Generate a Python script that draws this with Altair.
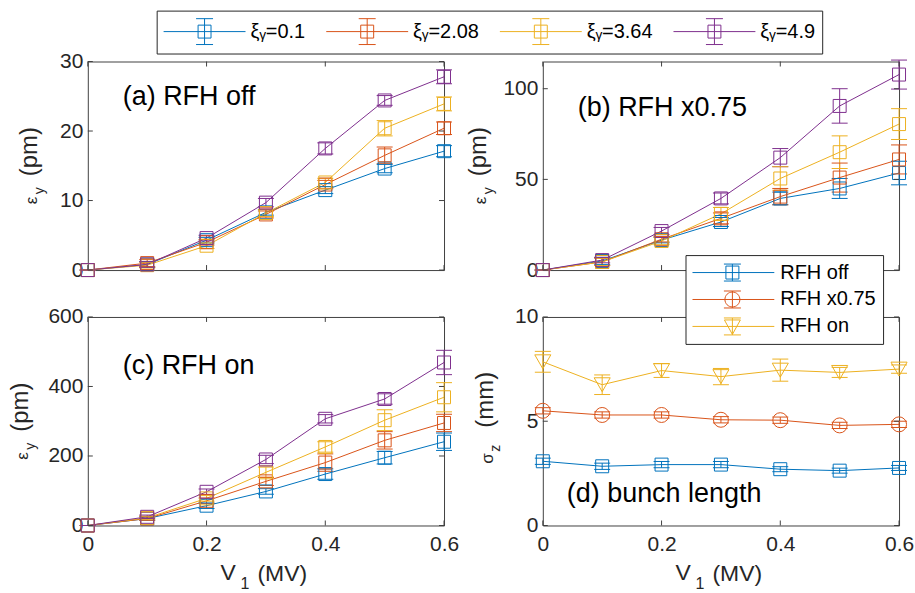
import altair as alt
import pandas as pd

FONT = "Liberation Sans"
TXT = "#262626"
FRAME = "#404040"
W, H = 357, 209

# ---------------- data ----------------
V1 = [0.0, 0.1, 0.2, 0.3, 0.4, 0.5, 0.6]
X_TICKS = [0, 0.2, 0.4, 0.6]

XI_LABELS = ["ξᵧ=0.1", "ξᵧ=2.08", "ξᵧ=3.64", "ξᵧ=4.9"]
XI_COLORS = ["#0072BD", "#D95319", "#EDB120", "#7E2F8E"]

# (a) RFH off  -- emittance (pm)
a_xi01 = [0, 0.8, 4.3, 8.3, 11.5, 14.6, 17.1]
a_xi208 = [0, 1.0, 4.0, 8.0, 12.3, 16.5, 20.4]
a_xi364 = [0, 0.7, 3.5, 8.2, 12.6, 20.4, 23.9]
a_xi49 = [0, 0.8, 4.6, 9.7, 17.5, 24.4, 27.8]
a_err01 = [0, 0.4, 0.4, 0.4, 0.5, 0.6, 0.8]
a_err208 = [0, 0.5, 0.4, 0.5, 0.6, 1.2, 0.9]
a_err364 = [0, 0.4, 0.4, 0.5, 0.6, 1.1, 1.0]
a_err49 = [0, 0.4, 0.4, 0.6, 0.8, 0.7, 1.0]
A_TICKS = [0, 10, 20, 30]

# (b) RFH x0.75
b_xi01 = [0, 5.0, 16.5, 26.5, 39.5, 45.0, 53.5]
b_xi208 = [0, 4.5, 17.0, 28.5, 40.5, 51.0, 61.0]
b_xi364 = [0, 4.5, 16.0, 31.0, 50.5, 65.0, 80.5]
b_xi49 = [0, 5.5, 21.5, 39.5, 62.0, 90.5, 107.8]
b_err01 = [0, 2.0, 1.5, 2.5, 3.5, 5.5, 6.5]
b_err208 = [0, 2.0, 1.5, 3.0, 4.5, 8.0, 8.0]
b_err364 = [0, 2.0, 2.0, 3.5, 6.5, 9.0, 8.5]
b_err49 = [0, 1.5, 2.0, 3.0, 5.0, 9.5, 8.0]
B_TICKS = [0, 50, 100]

# (c) RFH on
c_xi01 = [0, 20, 57, 98, 148, 195, 241]
c_xi208 = [0, 20, 71, 127, 181, 245, 295]
c_xi364 = [0, 22, 78, 153, 226, 303, 369]
c_xi49 = [0, 25, 97, 190, 307, 364, 469]
c_err01 = [0, 5, 8, 8, 15, 18, 25]
c_err208 = [0, 5, 8, 12, 25, 25, 25]
c_err364 = [0, 5, 8, 15, 15, 30, 42]
c_err49 = [0, 5, 8, 12, 12, 15, 35]
C_TICKS = [0, 200, 400, 600]

# (d) bunch length (mm)
RFH_LABELS = ["RFH off", "RFH x0.75", "RFH on"]
RFH_COLORS = ["#0072BD", "#D95319", "#EDB120"]
RFH_SHAPES = ["square", "circle", "triangle-down"]
RFH_SIZES = [169, 225, 260]
d_off = [3.08, 2.84, 2.92, 2.92, 2.70, 2.63, 2.76]
d_x075 = [5.50, 5.30, 5.30, 5.07, 5.05, 4.80, 4.85]
d_on = [7.85, 6.75, 7.43, 7.14, 7.45, 7.34, 7.50]
d_off_err = [0.15, 0.15, 0.15, 0.15, 0.12, 0.12, 0.12]
d_x075_err = [0.15, 0.15, 0.15, 0.15, 0.15, 0.15, 0.15]
d_on_err = [0.50, 0.47, 0.33, 0.39, 0.53, 0.24, 0.20]
D_TICKS = [0, 5, 10]


def long_df(series, errs, labels):
    rows = []
    for lab, ys, es in zip(labels, series, errs):
        for v, y, e in zip(V1, ys, es):
            rows.append({"V": v, "val": y, "lo": y - e, "hi": y + e, "s": lab})
    return pd.DataFrame(rows)


# legend symbols: line + errorbar + marker (custom SVG paths, unit = sqrt(size)/2 px)
TOP_SYM = ("M-1.04,0H5.04M1.52,-0.48H2.48V0.48H1.52Z"
           "M2,-0.96V0.96M1.37,-0.96H2.63M1.37,0.96H2.63")
EB = "M2.95,-0.85V0.85M2.1,-0.85H3.8M2.1,0.85H3.8"
D_SQ = "M-1.05,0H7.15M2.3,-0.65H3.6V0.65H2.3Z" + EB
D_CI = "M-1.05,0H7.15M3.7,0A0.75,0.75,0,1,1,2.2,0A0.75,0.75,0,1,1,3.7,0" + EB
D_TR = "M-1.05,0H7.15M2.15,-0.65H3.75L2.95,0.8Z" + EB
D_EXPR = ("datum.value == 'RFH off' ? '%s' : (datum.value == 'RFH x0.75' ? '%s' : '%s')"
          % (D_SQ, D_CI, D_TR))


def txt(s, x, y, size, angle=0, color="#000000"):
    kw = dict(align="left", baseline="alphabetic", fontSize=size, font=FONT, color=color)
    if angle:
        kw["angle"] = angle
    return alt.Chart(alt.Data(values=[{"t": s}])).mark_text(**kw).encode(
        x=alt.value(x), y=alt.value(y), text="t:N")


def ytitle(sym, sub, paren, B, s_sym, s_sub, s_par):
    return [
        txt(sym, B, s_sym, 17, 270, TXT),
        txt(sub, B + 7, s_sub, 14, 270, TXT),
        txt(paren, B, s_par, 24, 270, TXT),
    ]


def xtitle():
    return [
        txt("V", 133, H + 55, 23, 0, TXT),
        txt("1", 153, H + 64, 16, 0, TXT),
        txt("(MV)", 170, H + 56, 23, 0, TXT),
    ]


def panel(df, labels, colors, shapes, sizes, ydom, yticks, show_x, legend, extra):
    xs = alt.Scale(domain=[0, 0.6], nice=False, zero=False)
    ys = alt.Scale(domain=ydom, nice=False, zero=False)
    xax = alt.Axis(values=X_TICKS, format=".1~f", ticks=False, domain=False, grid=False,
                   labelPadding=8, title=None, labelFlush=False, labelOverlap=False) if show_x else None
    yax = alt.Axis(values=yticks, format="d", ticks=False, domain=False, grid=False,
                   labelPadding=5, title=None, labelFlush=False, labelOverlap=False)
    cs = alt.Scale(domain=labels, range=colors)
    col = alt.Color("s:N", scale=cs, legend=legend)

    def X(f):
        return alt.X(f, scale=xs, axis=xax)

    def Y(f):
        return alt.Y(f, scale=ys, axis=yax)

    base = alt.Chart(df)
    line = base.mark_line(strokeWidth=1).encode(x=X("V:Q"), y=Y("val:Q"), color=col)
    bars = base.mark_rule(strokeWidth=1).encode(x=X("V:Q"), y=Y("lo:Q"), y2="hi:Q", color=col)
    cap_lo = base.mark_rule(strokeWidth=1, xOffset=-8, x2Offset=8).encode(
        x=X("V:Q"), x2="V:Q", y=Y("lo:Q"), color=col)
    cap_hi = base.mark_rule(strokeWidth=1, xOffset=-8, x2Offset=8).encode(
        x=X("V:Q"), x2="V:Q", y=Y("hi:Q"), color=col)
    pts = []
    for lab, shp, sz in zip(labels, shapes, sizes):
        pts.append(base.transform_filter(alt.datum.s == lab).mark_point(
            filled=False, strokeWidth=1, opacity=1, size=sz, shape=shp).encode(
            x=X("V:Q"), y=Y("val:Q"), color=col))
    xt = alt.Chart(pd.DataFrame({"t": X_TICKS}))
    yt = alt.Chart(pd.DataFrame({"t": yticks}))
    tk = dict(color=FRAME, strokeWidth=1)
    ticks = [
        xt.mark_rule(**tk).encode(x=X("t:Q"), y=alt.value(H), y2=alt.value(H - 5)),
        xt.mark_rule(**tk).encode(x=X("t:Q"), y=alt.value(0), y2=alt.value(5)),
        yt.mark_rule(**tk).encode(y=Y("t:Q"), x=alt.value(0), x2=alt.value(5)),
        yt.mark_rule(**tk).encode(y=Y("t:Q"), x=alt.value(W), x2=alt.value(W - 5)),
    ]
    layers = [line, bars, cap_lo, cap_hi] + pts + ticks + extra
    return alt.layer(*layers).properties(width=W, height=H)


top_legend = alt.Legend(
    title=None, orient="none", legendX=69, legendY=-51, direction="horizontal", columns=4,
    symbolType=TOP_SYM, symbolSize=729, symbolStrokeWidth=1, symbolFillColor="transparent",
    labelFont=FONT, labelFontSize=20, labelColor="#000000", labelOffset=59, labelLimit=300,
    columnPadding=18, padding=7, fillColor="white", strokeColor="#262626")

d_legend = alt.Legend(
    title=None, orient="none", legendX=143, legendY=-62, direction="vertical",
    symbolType=alt.ExprRef(expr=D_EXPR), symbolSize=400, symbolStrokeWidth=1,
    symbolFillColor="transparent",
    labelFont=FONT, labelFontSize=20, labelColor="#000000", labelOffset=67, labelLimit=300,
    rowPadding=6, padding=7, fillColor="white", strokeColor="#262626")

SQ4 = ["square"] * 4
SZ4 = [169] * 4

pa = panel(long_df([a_xi01, a_xi208, a_xi364, a_xi49], [a_err01, a_err208, a_err364, a_err49], XI_LABELS),
           XI_LABELS, XI_COLORS, SQ4, SZ4, [0, 30], A_TICKS, False, top_legend,
           [txt("(a) RFH off", 35, 44, 27)] + ytitle("ε", "y", "(pm)", -51, 143, 133, 115))
pb = panel(long_df([b_xi01, b_xi208, b_xi364, b_xi49], [b_err01, b_err208, b_err364, b_err49], XI_LABELS),
           XI_LABELS, XI_COLORS, SQ4, SZ4, [0, 115], B_TICKS, False, None,
           [txt("(b) RFH x0.75", 35, 55, 27)] + ytitle("ε", "y", "(pm)", -57, 143, 133, 115))
pc = panel(long_df([c_xi01, c_xi208, c_xi364, c_xi49], [c_err01, c_err208, c_err364, c_err49], XI_LABELS),
           XI_LABELS, XI_COLORS, SQ4, SZ4, [0, 600], C_TICKS, True, None,
           [txt("(c) RFH on", 35, 57, 27)] + ytitle("ε", "y", "(pm)", -60, 143, 133, 115) + xtitle())
pd_ = panel(long_df([d_off, d_x075, d_on], [d_off_err, d_x075_err, d_on_err], RFH_LABELS),
            RFH_LABELS, RFH_COLORS, RFH_SHAPES, RFH_SIZES, [0, 10], D_TICKS, True, d_legend,
            [txt("(d) bunch length", 24, 185, 27)] + ytitle("σ", "z", "(mm)", -50, 147, 135, 111) + xtitle())

chart = alt.concat(pa, pb, pc, pd_, columns=2, spacing={"row": 47, "column": 99}, bounds="flush").resolve_scale(
    color="independent"
).properties(
    padding={"left": 8, "top": 9, "right": 0, "bottom": 0},
    background="white",
).configure_view(stroke=FRAME, strokeWidth=1).configure_axis(
    labelFont=FONT, labelFontSize=21, labelColor=TXT
)

chart.save("out.html", embed_options={"renderer": "svg", "actions": False})
